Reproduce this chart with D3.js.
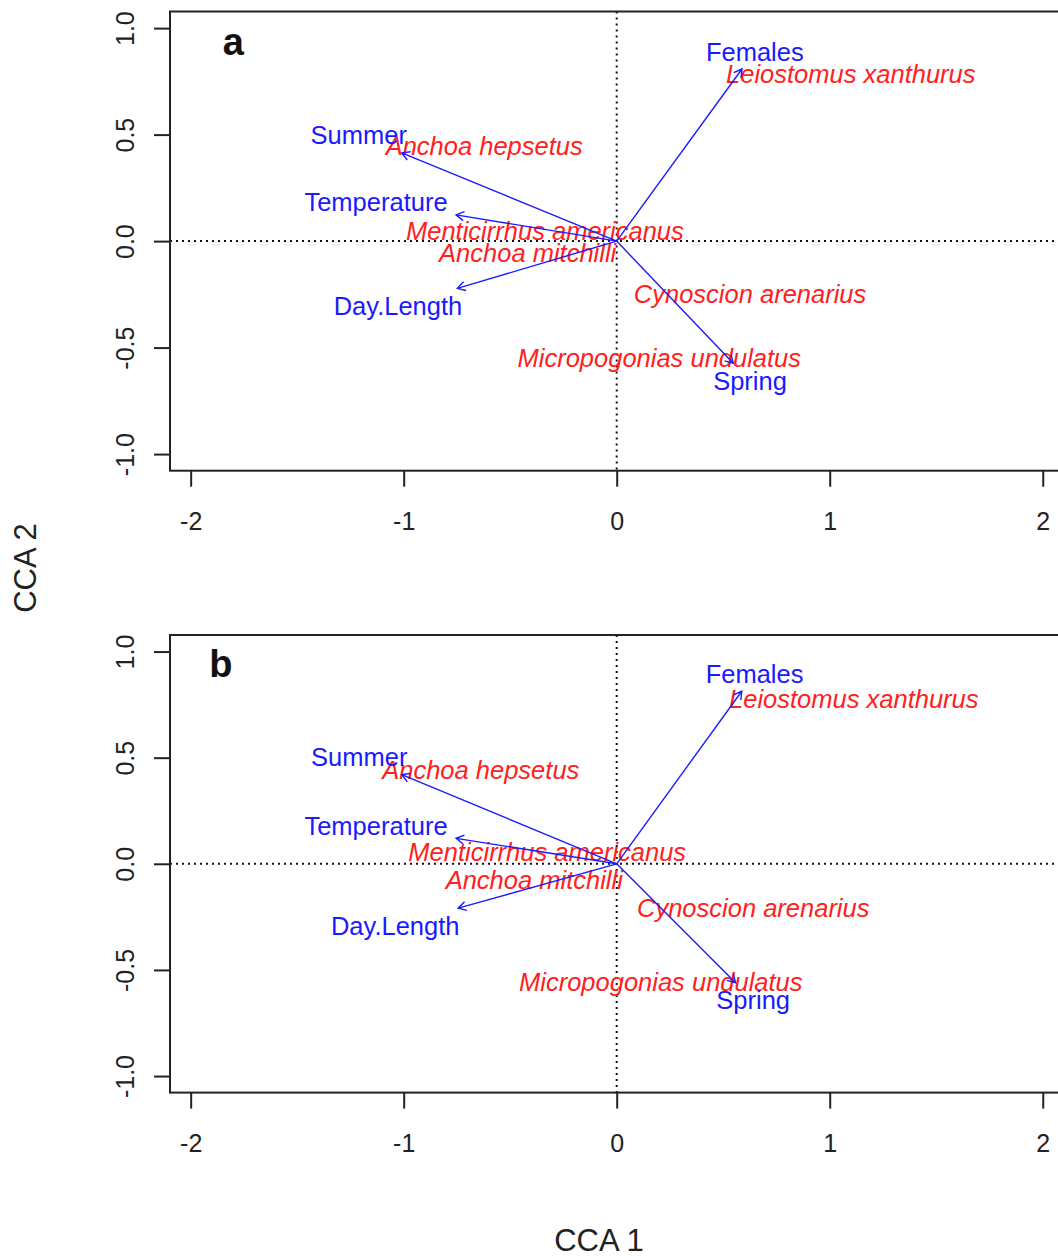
<!DOCTYPE html>
<html>
<head>
<meta charset="utf-8">
<script src="https://cdn.jsdelivr.net/npm/d3@7"></script>
<style>
  html, body { margin: 0; padding: 0; background: #fff; }
  svg { display: block; }
  text { font-family: "Liberation Sans", Arial, sans-serif; }
</style>
</head>
<body>
<svg id="chart" width="1058" height="1258"></svg>
<script>
// Species scores (CCA 1, CCA 2) and environmental biplot arrows for the two ordinations
const species = ["Leiostomus xanthurus", "Anchoa hepsetus", "Menticirrhus americanus",
                 "Anchoa mitchilli", "Cynoscion arenarius", "Micropogonias undulatus"];
const speciesA_cca1 = [1.099, -0.622, -0.337, -0.418, 0.626, 0.200];
const speciesA_cca2 = [0.786, 0.446, 0.047, -0.057, -0.248, -0.547];
const speciesB_cca1 = [1.113, -0.638, -0.326, -0.387, 0.641, 0.207];
const speciesB_cca2 = [0.778, 0.445, 0.055, -0.076, -0.207, -0.555];

const variables = ["Summer", "Temperature", "Day.Length", "Females", "Spring"];
const biplotA_cca1 = [-1.009, -0.754, -0.748, 0.588, 0.547];
const biplotA_cca2 = [0.414, 0.123, -0.222, 0.808, -0.574];
const biplotB_cca1 = [-1.009, -0.754, -0.744, 0.587, 0.558];
const biplotB_cca2 = [0.420, 0.120, -0.209, 0.813, -0.560];

const xTicks = [-2, -1, 0, 1, 2];
const xTickLabels = ["-2", "-1", "0", "1", "2"];
const yTicks = [-1, -0.5, 0, 0.5, 1];
const yTickLabels = ["-1.0", "-0.5", "0.0", "0.5", "1.0"];
const panelLetters = ["a", "b"];

const svg = d3.select("#chart");
const BLUE = "#1a1aff", RED = "#ff2020", INK = "#222";
const xDomain = [-2.097, 2.097], yDomain = [-1.078, 1.078];

const x = d3.scaleLinear().domain(xDomain).range([170, 1063.4]);

const panels = [
  { letter: panelLetters[0], top: 11.5, bottom: 470.7, letterAt: [-1.80, 0.94],
    sx: speciesA_cca1, sy: speciesA_cca2, bx: biplotA_cca1, by: biplotA_cca2 },
  { letter: panelLetters[1], top: 635, bottom: 1092.6, letterAt: [-1.858, 0.943],
    sx: speciesB_cca1, sy: speciesB_cca2, bx: biplotB_cca1, by: biplotB_cca2 }
];

function arrowHead(g, x0, y0, x1, y1, len, color) {
  const ang = Math.atan2(y1 - y0, x1 - x0);
  const a = Math.PI / 6;
  const p1 = [x1 - len * Math.cos(ang - a), y1 - len * Math.sin(ang - a)];
  const p2 = [x1 - len * Math.cos(ang + a), y1 - len * Math.sin(ang + a)];
  g.append("path")
    .attr("d", `M${p1[0]},${p1[1]}L${x1},${y1}L${p2[0]},${p2[1]}`)
    .attr("fill", "none").attr("stroke", color).attr("stroke-width", 1.4);
}

panels.forEach(p => {
  const y = d3.scaleLinear().domain(yDomain).range([p.bottom, p.top]);
  const g = svg.append("g");
  const x0 = x(0), y0 = y(0);

  // reference lines through the origin
  g.append("line").attr("x1", x.range()[0]).attr("x2", x.range()[1])
    .attr("y1", y0).attr("y2", y0)
    .attr("stroke", "#111").attr("stroke-width", 2).attr("stroke-dasharray", "2,4");
  g.append("line").attr("x1", x0).attr("x2", x0)
    .attr("y1", p.top).attr("y2", p.bottom)
    .attr("stroke", "#111").attr("stroke-width", 2).attr("stroke-dasharray", "2,4");

  // species labels
  species.forEach((s, i) => {
    g.append("text")
      .attr("x", x(p.sx[i])).attr("y", y(p.sy[i])).attr("dy", "0.36em")
      .attr("text-anchor", "middle").attr("font-style", "italic")
      .attr("font-size", 25.5).attr("fill", RED).text(s);
  });

  // biplot arrows with labels pushed out along the arrow
  const fs = 25.5;
  variables.forEach((v, i) => {
    const tx = x(p.bx[i]), ty = y(p.by[i]);
    g.append("line").attr("x1", x0).attr("y1", y0).attr("x2", tx).attr("y2", ty)
      .attr("stroke", BLUE).attr("stroke-width", 1.4);
    arrowHead(g, x0, y0, tx, ty, 9, BLUE);
    const t = g.append("text").attr("text-anchor", "middle").attr("dy", "0.36em")
      .attr("font-size", fs).attr("fill", BLUE).text(v);
    const w = t.node().getComputedTextLength();
    const h = fs * 0.716;
    const eps = 8.5;
    const dx = tx - x0, dy = ty - y0;
    const k = Math.min((w / 2 + eps) / Math.abs(dx), (h / 2 + eps) / Math.abs(dy));
    t.attr("x", tx + dx * k).attr("y", ty + dy * k);
  });

  // frame (right side falls beyond the canvas)
  g.append("rect").attr("x", x.range()[0]).attr("y", p.top)
    .attr("width", x.range()[1] - x.range()[0]).attr("height", p.bottom - p.top)
    .attr("fill", "none").attr("stroke", INK).attr("stroke-width", 2);

  // x axis
  const xAxis = g.append("g").attr("transform", `translate(0,${p.bottom})`)
    .call(d3.axisBottom(x).tickValues(xTicks).tickSize(16).tickPadding(0)
      .tickFormat((d, i) => xTickLabels[i]));
  xAxis.select(".domain").remove();
  xAxis.selectAll(".tick line").attr("stroke", INK).attr("stroke-width", 2);
  xAxis.selectAll(".tick text").attr("y", 50).attr("dy", "0.36em")
    .attr("font-size", 25).attr("fill", INK).attr("font-family", "Liberation Sans, Arial, sans-serif");

  // y axis with rotated labels
  const yAxis = g.append("g").attr("transform", `translate(${x.range()[0]},0)`)
    .call(d3.axisLeft(y).tickValues(yTicks).tickSize(16).tickFormat((d, i) => yTickLabels[i]));
  yAxis.select(".domain").remove();
  yAxis.selectAll(".tick line").attr("stroke", INK).attr("stroke-width", 2);
  yAxis.selectAll(".tick text")
    .attr("x", null).attr("dy", null)
    .attr("transform", "translate(-45.5,0) rotate(-90)")
    .attr("y", 0).attr("dy", "0.36em").attr("text-anchor", "middle")
    .attr("font-size", 25).attr("fill", INK).attr("font-family", "Liberation Sans, Arial, sans-serif");

  // panel letter
  g.append("text").attr("x", x(p.letterAt[0])).attr("y", y(p.letterAt[1])).attr("dy", "0.36em")
    .attr("text-anchor", "middle").attr("font-size", 38).attr("font-weight", "bold")
    .attr("fill", "#111").text(p.letter);
});

// shared axis titles
svg.append("text").attr("transform", "translate(25,568) rotate(-90)")
  .attr("dy", "0.36em").attr("text-anchor", "middle").attr("font-size", 31)
  .attr("fill", INK).text("CCA 2");
svg.append("text").attr("x", 599).attr("y", 1240).attr("dy", "0.36em")
  .attr("text-anchor", "middle").attr("font-size", 31)
  .attr("fill", INK).text("CCA 1");
</script>
</body>
</html>
